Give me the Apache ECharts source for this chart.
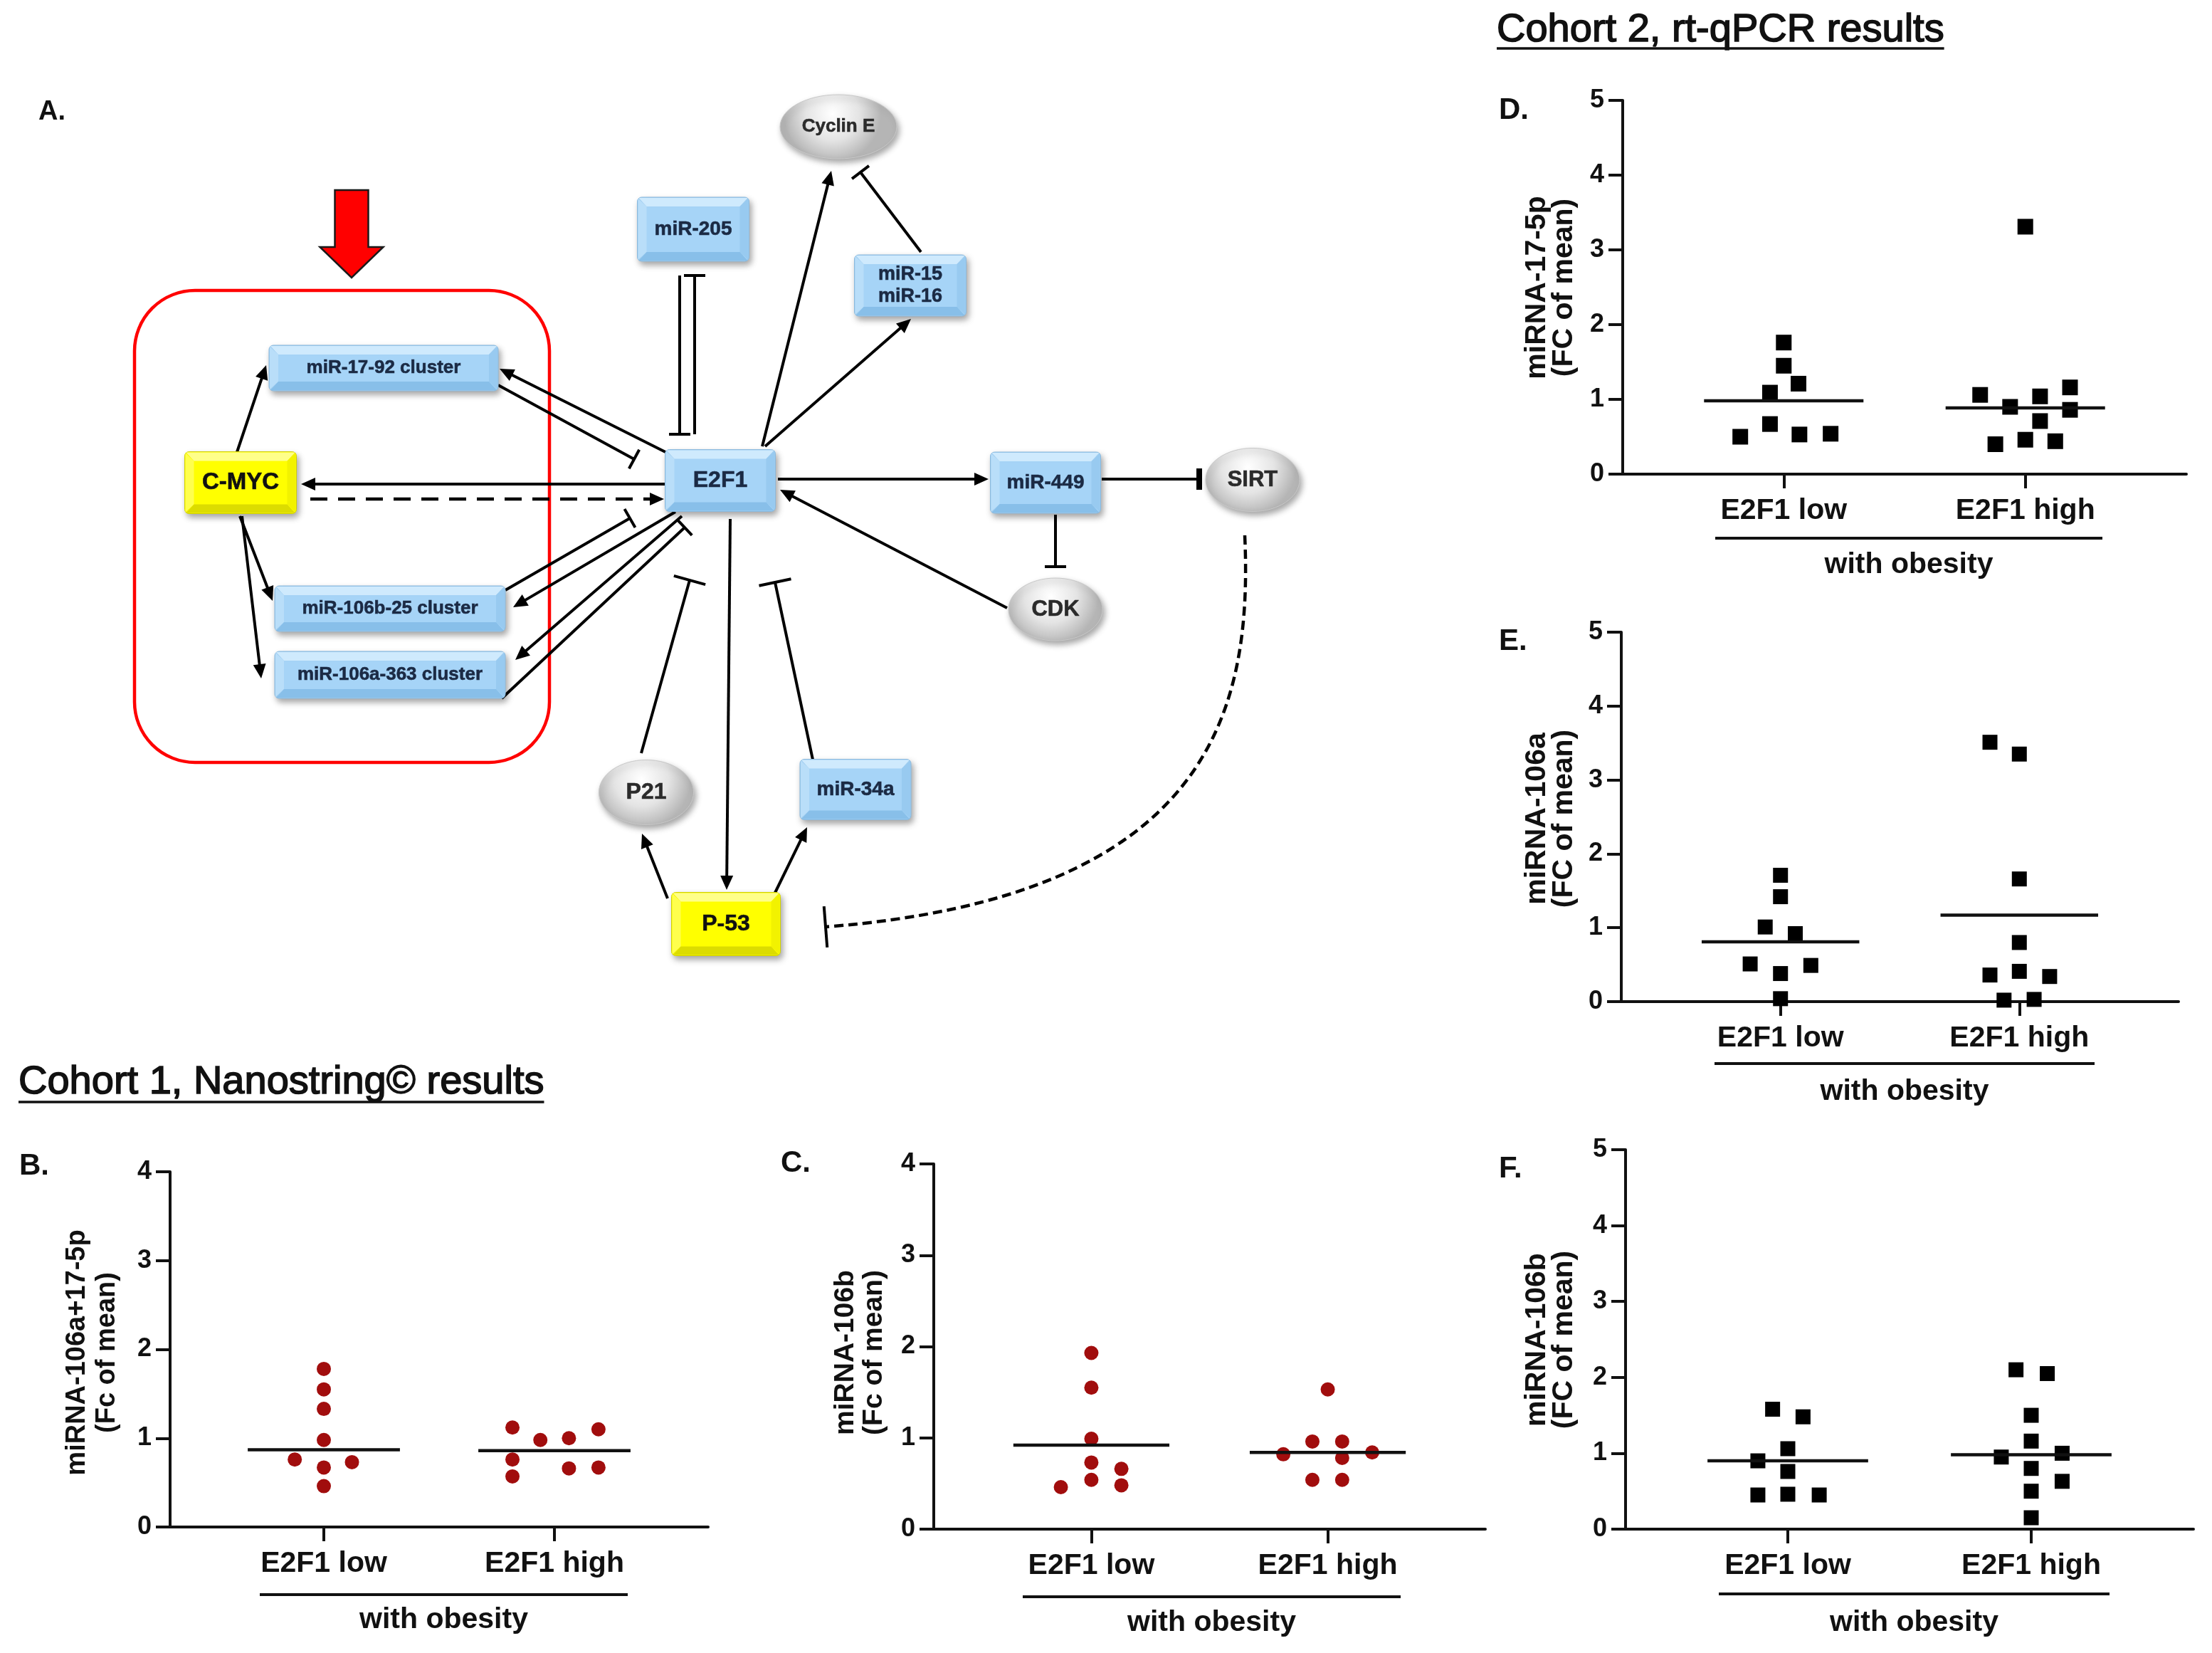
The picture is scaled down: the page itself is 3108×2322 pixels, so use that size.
<!DOCTYPE html>
<html>
<head>
<meta charset="utf-8">
<script src="https://cdn.jsdelivr.net/npm/echarts@6/dist/echarts.min.js"></script>
<style>
html,body{margin:0;padding:0;background:#fff;}
#c{width:3108px;height:2322px;}
</style>
</head>
<body>
<div id="c"></div>
<script>
// ---------------- DATA ----------------
const groupLabels = ['E2F1 low', 'E2F1 high'];

// Panel B: miRNA-106a+17-5p (Nanostring, cohort 1)
const B_lowValues   = [1.78, 1.55, 1.33, 0.98, 0.76, 0.73, 0.67, 0.46];
const B_lowJitter   = [0, 0, 0, 0, -0.126, 0.122, 0, 0];
const B_highValues  = [1.12, 0.98, 1.00, 1.10, 0.76, 0.57, 0.66, 0.67];
const B_highJitter  = [-0.182, -0.061, 0.063, 0.191, -0.182, -0.182, 0.063, 0.191];
const B_centre      = [0.87, 0.86];

// Panel C: miRNA-106b (Nanostring, cohort 1)
const C_lowValues   = [1.93, 1.55, 0.99, 0.73, 0.66, 0.54, 0.48, 0.46];
const C_lowJitter   = [0, 0, 0, 0, 0.127, 0, 0.127, -0.129];
const C_highValues  = [1.53, 0.96, 0.96, 0.82, 0.84, 0.78, 0.54, 0.54];
const C_highJitter  = [0, -0.065, 0.061, -0.188, 0.188, 0.061, -0.065, 0.061];
const C_centre      = [0.92, 0.84];

// Panel D: miRNA-17-5p (rt-qPCR, cohort 2)
const D_lowValues   = [1.76, 1.45, 1.21, 1.09, 0.67, 0.50, 0.53, 0.54];
const D_lowJitter   = [0, 0, 0.061, -0.057, -0.057, -0.18, 0.065, 0.194];
const D_highValues  = [3.31, 1.06, 1.04, 1.16, 0.90, 0.86, 0.71, 0.40, 0.46, 0.44];
const D_highJitter  = [0, -0.187, 0.061, 0.185, -0.063, 0.185, 0.061, -0.124, 0, 0.124];
const D_centre      = [0.98, 0.886];

// Panel E: miRNA-106a (rt-qPCR, cohort 2)
const E_lowValues   = [1.71, 1.42, 1.01, 0.92, 0.51, 0.49, 0.38, 0.04];
const E_lowJitter   = [0, 0, -0.064, 0.062, -0.127, 0.127, 0, 0];
const E_highValues  = [3.51, 3.35, 1.66, 0.80, 0.36, 0.41, 0.34, 0.02, 0.03];
const E_highJitter  = [-0.123, 0, 0, 0, -0.123, 0, 0.127, -0.064, 0.062];
const E_centre      = [0.81, 1.17];

// Panel F: miRNA-106b (rt-qPCR, cohort 2)
const F_lowValues   = [1.58, 1.48, 1.06, 0.90, 0.76, 0.45, 0.46, 0.45];
const F_lowJitter   = [-0.0625, 0.0625, 0, -0.123, 0, -0.123, 0, 0.129];
const F_highValues  = [2.10, 2.05, 1.50, 1.16, 0.95, 1.00, 0.80, 0.63, 0.50, 0.15];
const F_highJitter  = [-0.0625, 0.066, 0, 0, -0.123, 0.127, 0, 0.127, 0, 0];
const F_centre      = [0.90, 0.98];

// Panel A: network diagram (layout units)
const diagramNodes = [
  ['C-MYC', 338, 678, 157, 87, 'yellow'],
  ['miR-17-92 cluster', 539, 517, 322, 64, 'blue'],
  ['miR-106b-25 cluster', 548, 855, 324, 64, 'blue'],
  ['miR-106a-363 cluster', 548, 948, 324, 66, 'blue'],
  ['E2F1', 1012, 675, 155, 87, 'blue'],
  ['miR-205', 974, 322, 157, 90, 'blue'],
  ['Cyclin E', 1178, 178, 164, 90, 'grey'],
  ['miR-15\nmiR-16', 1279, 401, 157, 86, 'blue'],
  ['miR-449', 1469, 678, 155, 86, 'blue'],
  ['SIRT', 1760, 674, 132, 89, 'grey'],
  ['CDK', 1483, 856, 132, 88, 'grey'],
  ['P21', 908, 1113, 133, 91, 'grey'],
  ['miR-34a', 1202, 1109, 156, 85, 'blue'],
  ['P-53', 1020, 1298, 153, 89, 'yellow']
];
// [x1, y1, x2, y2, end type, dashed]
const diagramEdges = [
  [333, 635, 374, 513, 'arrow', 0],
  [337, 725, 383, 844, 'arrow', 0],
  [340, 725, 367, 953, 'arrow', 0],
  [939, 680, 423, 680, 'arrow', 0],
  [436, 701, 933, 701, 'arrow', 1],
  [939, 637, 702, 518, 'arrow', 0],
  [700, 541, 891, 645, 'tee', 0],
  [949, 719, 721, 853, 'arrow', 0],
  [710, 829, 885, 728, 'tee', 0],
  [958, 725, 724, 927, 'arrow', 0],
  [705, 981, 962, 741, 'tee', 0],
  [955, 387, 955, 610, 'tee', 0],
  [976, 610, 976, 387, 'tee', 0],
  [1071, 627, 1168, 240, 'arrow', 0],
  [1075, 627, 1280, 448, 'arrow', 0],
  [1294, 354, 1209, 242, 'tee', 0],
  [1093, 673, 1389, 673, 'arrow', 0],
  [1548, 673, 1685, 673, 'teeBold', 0],
  [1483, 723, 1483, 796, 'tee', 0],
  [1415, 854, 1096, 688, 'arrow', 0],
  [1026, 729, 1021, 1250, 'arrow', 0],
  [938, 1262, 902, 1171, 'arrow', 0],
  [1089, 1254, 1134, 1162, 'arrow', 0],
  [901, 1058, 969, 815, 'teeWide', 0],
  [1142, 1067, 1089, 818, 'teeWide', 0]
];
// SIRT --| P-53 dashed curve: [x1,y1, cx1,cy1, cx2,cy2, x2,y2]
const diagramCurves = [
  [1749, 752, 1760, 1000, 1700, 1260, 1160, 1302]
];
const highlightFrame = [[189, 408, 772, 1071]];
const focusArrow = [[494, 267, 347, 390]];

// ---------------- STYLE / LAYOUT ----------------
const FONT = '"Liberation Sans", Arial, sans-serif';
const INK = '#111111';

const panels = [
  { values: [B_lowValues, B_highValues], jitter: [B_lowJitter, B_highJitter], centre: B_centre,
    yMax: 4, symbol: 'circle', size: 20, color: '#a10d0d',
    grid: { left: 239, top: 1646, width: 756, height: 499 },
    letter: ['B.', 27, 1638], yTitle: ['miRNA-106a+17-5p\n(Fc of mean)', 130, 1900, 38, 42],
    bracket: [365, 882, 2240], obesityY: 2276 },
  { values: [C_lowValues, C_highValues], jitter: [C_lowJitter, C_highJitter], centre: C_centre,
    yMax: 4, symbol: 'circle', size: 20, color: '#a10d0d',
    grid: { left: 1312, top: 1635, width: 775, height: 513 },
    letter: ['C.', 1097, 1634], yTitle: ['miRNA-106b\n(Fc of mean)', 1208, 1900, 39, 40],
    bracket: [1437, 1968, 2243], obesityY: 2280 },
  { values: [D_lowValues, D_highValues], jitter: [D_lowJitter, D_highJitter], centre: D_centre,
    yMax: 5, symbol: 'rect', size: 22, color: '#000000',
    grid: { left: 2280, top: 141, width: 792, height: 525 },
    letter: ['D.', 2106, 155], yTitle: ['miRNA-17-5p\n(FC of mean)', 2179, 404, 41, 38],
    bracket: [2410, 2954, 756], obesityY: 794 },
  { values: [E_lowValues, E_highValues], jitter: [E_lowJitter, E_highJitter], centre: E_centre,
    yMax: 5, symbol: 'rect', size: 21, color: '#000000',
    grid: { left: 2278, top: 888, width: 783, height: 519 },
    letter: ['E.', 2106, 901], yTitle: ['miRNA-106a\n(FC of mean)', 2179, 1150, 41, 38],
    bracket: [2409, 2943, 1494], obesityY: 1534 },
  { values: [F_lowValues, F_highValues], jitter: [F_lowJitter, F_highJitter], centre: F_centre,
    yMax: 5, symbol: 'rect', size: 21, color: '#000000',
    grid: { left: 2284, top: 1615, width: 798, height: 533 },
    letter: ['F.', 2106, 1642], yTitle: ['miRNA-106b\n(FC of mean)', 2179, 1882, 41, 38],
    bracket: [2415, 2964, 2239], obesityY: 2280 }
];

const nodeFont = {
  'C-MYC': 33, 'E2F1': 32, 'P-53': 32, 'SIRT': 31, 'CDK': 31, 'P21': 32,
  'miR-449': 28, 'miR-34a': 28, 'miR-205': 28, 'Cyclin E': 26, 'miR-15\nmiR-16': 27,
  'miR-17-92 cluster': 26, 'miR-106b-25 cluster': 26, 'miR-106a-363 cluster': 26
};
const endStyle = {
  arrow:   { len: 20, half: 9 },
  tee:     { len: 30, width: 4 },
  teeWide: { len: 46, width: 4 },
  teeBold: { len: 30, width: 8 },
  teeCurve:{ len: 58, width: 4 }
};
const EDGE_W = 4;

function measure(text, font) {
  const ctx = document.createElement('canvas').getContext('2d');
  ctx.font = font;
  return ctx.measureText(text).width;
}

// ---------------- DIAGRAM RENDERERS ----------------
function edgeGraphic(a, b, endType, dashed, dir) {
  let ux = dir ? dir[0] : b[0] - a[0];
  let uy = dir ? dir[1] : b[1] - a[1];
  const L = Math.hypot(ux, uy); ux /= L; uy /= L;
  const nx = -uy, ny = ux;
  const st = endStyle[endType];
  const kids = [];
  let ex = b[0], ey = b[1];
  if (endType === 'arrow') {
    ex = b[0] - ux * st.len * 0.75; ey = b[1] - uy * st.len * 0.75;
    const bx = b[0] - ux * st.len, by = b[1] - uy * st.len;
    kids.push({ type: 'polygon', shape: { points: [[b[0], b[1]], [bx + nx * st.half, by + ny * st.half], [bx - nx * st.half, by - ny * st.half]] },
      style: { fill: '#000' } });
  } else {
    kids.push({ type: 'line', shape: { x1: b[0] + nx * st.len / 2, y1: b[1] + ny * st.len / 2, x2: b[0] - nx * st.len / 2, y2: b[1] - ny * st.len / 2 },
      style: { stroke: '#000', lineWidth: st.width } });
  }
  if (!dir) {
    kids.unshift({ type: 'line', shape: { x1: a[0], y1: a[1], x2: ex, y2: ey },
      style: { stroke: '#000', lineWidth: dashed ? 4.5 : EDGE_W, lineDash: dashed ? [24, 15] : null } });
  }
  return { type: 'group', children: kids };
}

function renderEdge(params, api) {
  const e = diagramEdges[params.dataIndex];
  const a = api.coord([api.value(0), api.value(1)]);
  const b = api.coord([api.value(2), api.value(3)]);
  return edgeGraphic(a, b, e[4], e[5]);
}

function renderCurve(params, api) {
  const p0 = api.coord([api.value(0), api.value(1)]);
  const c1 = api.coord([api.value(2), api.value(3)]);
  const c2 = api.coord([api.value(4), api.value(5)]);
  const p3 = api.coord([api.value(6), api.value(7)]);
  return { type: 'group', children: [
    { type: 'bezierCurve', shape: { x1: p0[0], y1: p0[1], cpx1: c1[0], cpy1: c1[1], cpx2: c2[0], cpy2: c2[1], x2: p3[0], y2: p3[1] },
      style: { stroke: '#000', lineWidth: 4.5, fill: null, lineDash: [13, 7] } },
    edgeGraphic(c2, p3, 'teeCurve', 0, [p3[0] - c2[0], p3[1] - c2[1]])
  ] };
}

const palette = {
  blue:   { base: '#a6d4f7', top: '#cfeafd', left: '#b9def9', right: '#98caf0', bottom: '#88bfe9', stroke: '#8ab9dd' },
  yellow: { base: '#ffff00', top: '#ffff8a', left: '#ffff4d', right: '#f2f200', bottom: '#dcdc00', stroke: '#d0d000' }
};
const textColour = { blue: '#1b2a44', yellow: '#111111', grey: '#2b2b2b' };
const greyFill = () => new echarts.graphic.RadialGradient(0.45, 0.3, 0.75, [
  { offset: 0, color: '#ffffff' }, { offset: 0.55, color: '#e4e4e4' }, { offset: 1, color: '#b5b5b5' }]);

function renderNode(params, api) {
  const n = diagramNodes[params.dataIndex];
  const c = api.coord([api.value(0), api.value(1)]);
  const s = api.size([n[3], n[4]]);
  const w = Math.abs(s[0]), h = Math.abs(s[1]);
  const shadow = { shadowBlur: 9, shadowOffsetX: 3, shadowOffsetY: 5, shadowColor: 'rgba(0,0,0,0.35)' };
  const kids = [];
  if (n[5] === 'grey') {
    kids.push({ type: 'ellipse', shape: { cx: c[0], cy: c[1], rx: w / 2, ry: h / 2 },
      style: Object.assign({ fill: greyFill(), stroke: '#c8c8c8', lineWidth: 1 }, shadow) });
  } else {
    const pal = palette[n[5]];
    const x0 = c[0] - w / 2, y0 = c[1] - h / 2, x1 = c[0] + w / 2, y1 = c[1] + h / 2, b = 13;
    kids.push({ type: 'rect', shape: { x: x0, y: y0, width: w, height: h, r: 6 },
      style: Object.assign({ fill: pal.base, stroke: pal.stroke, lineWidth: 1 }, shadow) });
    kids.push({ type: 'polygon', shape: { points: [[x0 + 2, y0 + 1], [x1 - 2, y0 + 1], [x1 - b, y0 + b], [x0 + b, y0 + b]] }, style: { fill: pal.top } });
    kids.push({ type: 'polygon', shape: { points: [[x0 + 1, y0 + 2], [x0 + b, y0 + b], [x0 + b, y1 - b], [x0 + 1, y1 - 2]] }, style: { fill: pal.left } });
    kids.push({ type: 'polygon', shape: { points: [[x1 - 1, y0 + 2], [x1 - b, y0 + b], [x1 - b, y1 - b], [x1 - 1, y1 - 2]] }, style: { fill: pal.right } });
    kids.push({ type: 'polygon', shape: { points: [[x0 + 2, y1 - 1], [x1 - 2, y1 - 1], [x1 - b, y1 - b], [x0 + b, y1 - b]] }, style: { fill: pal.bottom } });
  }
  const fs = nodeFont[n[0]];
  kids.push({ type: 'text', x: c[0], y: c[1], style: { text: n[0], fill: textColour[n[5]], font: 'bold ' + fs + 'px ' + FONT,
    align: 'center', verticalAlign: 'middle', lineHeight: fs + 4, stroke: textColour[n[5]], lineWidth: 0.6 } });
  return { type: 'group', children: kids };
}

function renderFrame(params, api) {
  const p1 = api.coord([api.value(0), api.value(1)]);
  const p2 = api.coord([api.value(2), api.value(3)]);
  return { type: 'rect', shape: { x: p1[0], y: p1[1], width: p2[0] - p1[0], height: p2[1] - p1[1], r: 85 },
    style: { fill: null, stroke: '#ff0000', lineWidth: 4.5 } };
}

function renderFocusArrow(params, api) {
  const x = api.value(0), top = api.value(1), neck = api.value(2), tip = api.value(3);
  const shaft = 23.5, head = 44.5;
  const pts = [[x - shaft, top], [x + shaft, top], [x + shaft, neck], [x + head, neck], [x, tip], [x - head, neck], [x - shaft, neck]]
    .map(p => api.coord(p));
  return { type: 'polygon', shape: { points: pts }, style: { fill: '#ff0000', stroke: '#1a1a1a', lineWidth: 2.5 } };
}

// ---------------- SCATTER PANELS ----------------
const grids = [{ left: 0, top: 0, width: 3108, height: 2322 }];
const xAxes = [{ gridIndex: 0, type: 'value', min: 0, max: 3108, show: false }];
const yAxes = [{ gridIndex: 0, type: 'value', min: 0, max: 2322, inverse: true, show: false }];
const series = [
  { type: 'custom', xAxisIndex: 0, yAxisIndex: 0, silent: true, renderItem: renderFrame, data: highlightFrame, z: 1 },
  { type: 'custom', xAxisIndex: 0, yAxisIndex: 0, silent: true, renderItem: renderFocusArrow, data: focusArrow, z: 1 },
  { type: 'custom', xAxisIndex: 0, yAxisIndex: 0, silent: true, renderItem: renderEdge,
    data: diagramEdges.map(e => [e[0], e[1], e[2], e[3]]), z: 2 },
  { type: 'custom', xAxisIndex: 0, yAxisIndex: 0, silent: true, renderItem: renderCurve, data: diagramCurves, z: 2 },
  { type: 'custom', xAxisIndex: 0, yAxisIndex: 0, silent: true, renderItem: renderNode,
    data: diagramNodes.map(n => [n[1], n[2]]), z: 3 }
];
const graphics = [];

function txt(text, x, y, size, weight, align, extra) {
  graphics.push(Object.assign({ type: 'text', x: x, y: y, silent: true,
    style: { text: text, font: weight + ' ' + size + 'px ' + FONT, fill: INK, align: align || 'left', verticalAlign: 'middle' } }, extra || {}));
}
function hline(x1, x2, y, w) {
  graphics.push({ type: 'line', silent: true, shape: { x1: x1, y1: y, x2: x2, y2: y }, style: { stroke: INK, lineWidth: w } });
}

panels.forEach((p, i) => {
  const gi = i + 1;
  grids.push(p.grid);
  xAxes.push({
    gridIndex: gi, type: 'value', min: 1 / 3, max: 8 / 3,
    axisLine: { show: true, onZero: false, lineStyle: { color: INK, width: 4 } },
    axisTick: { show: true, customValues: [1, 2], length: 20, lineStyle: { color: INK, width: 4 } },
    axisLabel: { show: true, customValues: [1, 2], formatter: v => groupLabels[Math.round(v) - 1],
      fontSize: 41, fontWeight: 'bold', fontFamily: FONT, color: INK, margin: 31 },
    splitLine: { show: false }
  });
  yAxes.push({
    gridIndex: gi, type: 'value', min: 0, max: p.yMax, interval: 1,
    axisLine: { show: true, lineStyle: { color: INK, width: 4 } },
    axisTick: { show: true, length: 20, lineStyle: { color: INK, width: 4 } },
    axisLabel: { fontSize: 36, fontWeight: 'bold', fontFamily: FONT, color: INK, margin: 26 },
    splitLine: { show: false }
  });
  [0, 1].forEach(g => {
    series.push({
      type: 'scatter', xAxisIndex: gi, yAxisIndex: gi, symbol: p.symbol, symbolSize: p.size,
      itemStyle: { color: p.color, opacity: 1 }, z: 5, silent: true,
      data: p.values[g].map((v, k) => [g + 1 + p.jitter[g][k], v])
    });
  });
  series.push({
    type: 'custom', xAxisIndex: gi, yAxisIndex: gi, z: 6, silent: true,
    data: p.centre.map((v, g) => [g + 1, v]),
    renderItem: (params, api) => {
      const x = api.value(0), v = api.value(1);
      const a = api.coord([x - 0.33, v]), b = api.coord([x + 0.33, v]);
      return { type: 'line', shape: { x1: a[0], y1: a[1], x2: b[0], y2: b[1] }, style: { stroke: INK, lineWidth: 4.5 } };
    }
  });
  // annotations
  txt(p.letter[0], p.letter[1], p.letter[2], 42, 'bold', 'left');
  txt(p.yTitle[0], p.yTitle[1], p.yTitle[2], p.yTitle[3], 'bold', 'center',
    { rotation: Math.PI / 2, style: { text: p.yTitle[0], font: 'bold ' + p.yTitle[3] + 'px ' + FONT, fill: INK,
      align: 'center', verticalAlign: 'middle', lineHeight: p.yTitle[4] } });
  hline(p.bracket[0], p.bracket[1], p.bracket[2], 4);
  txt('with obesity', (p.bracket[0] + p.bracket[1]) / 2, p.obesityY, 41, 'bold', 'center');
});

// headings
const heading1 = 'Cohort 1, Nanostring\u00A9 results';
const heading2 = 'Cohort 2, rt-qPCR results';
const headFont = 'normal 56px ' + FONT;
const headExtra = t => ({ style: { text: t, font: headFont, fill: INK, stroke: INK, lineWidth: 1.6, align: 'left', verticalAlign: 'middle' } });
txt(heading1, 26, 1521, 56, 'normal', 'left', headExtra(heading1));
hline(26, 26 + measure(heading1, headFont), 1548, 3.5);
txt(heading2, 2103, 43, 56, 'normal', 'left', headExtra(heading2));
hline(2103, 2103 + measure(heading2, headFont), 68, 3.5);
txt('A.', 54, 158, 38, 'bold', 'left');

const chart = echarts.init(document.getElementById('c'), null, { renderer: 'canvas', width: 3108, height: 2322 });
chart.setOption({
  backgroundColor: '#ffffff',
  animation: false,
  grid: grids,
  xAxis: xAxes,
  yAxis: yAxes,
  series: series,
  graphic: { elements: graphics }
});
</script>
</body>
</html>
